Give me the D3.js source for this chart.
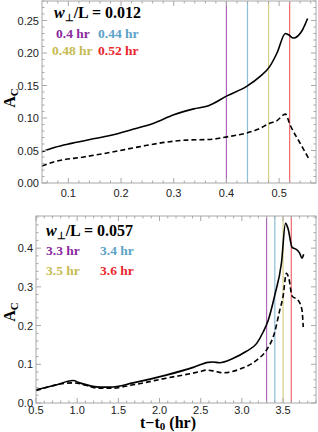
<!DOCTYPE html>
<html>
<head>
<meta charset="utf-8">
<script src="https://cdn.jsdelivr.net/npm/d3@7"></script>
<style>
  body { margin: 0; background: #ffffff; }
  #chart svg { display: block; }
  .tick-label { font-family: 'Liberation Sans', Arial, sans-serif; font-size: 11px; fill: #222222; }
  .serif-bold { font-family: 'Liberation Serif', 'Times New Roman', serif; font-weight: bold; }
</style>
</head>
<body>
<div id="chart"></div>
<script>
/* ── data ────────────────────────────────────────────────── */
// top panel: w/L = 0.012
const topSolid = [
  [0.05, 0.048], [0.075, 0.055], [0.106, 0.061], [0.141, 0.067], [0.179, 0.073],
  [0.224, 0.083], [0.262, 0.092], [0.30, 0.105], [0.338, 0.114], [0.366, 0.119],
  [0.401, 0.134], [0.439, 0.149], [0.464, 0.164], [0.482, 0.179], [0.496, 0.200],
  [0.512, 0.230], [0.518, 0.228], [0.527, 0.223], [0.544, 0.235], [0.554, 0.253]
];
const topDashed = [
  [0.05, 0.026], [0.075, 0.033], [0.129, 0.040], [0.179, 0.047], [0.236, 0.056],
  [0.287, 0.063], [0.325, 0.066], [0.369, 0.067], [0.401, 0.071], [0.439, 0.077],
  [0.461, 0.083], [0.480, 0.091], [0.496, 0.096], [0.512, 0.106], [0.521, 0.089],
  [0.540, 0.061], [0.556, 0.038]
];
const topMarks  = [0.4, 0.44, 0.48, 0.52];
const topLabels = ["0.4 hr", "0.44 hr", "0.48 hr", "0.52 hr"];
const topXTicks = [0.1, 0.2, 0.3, 0.4, 0.5];
const topYTicks = [0, 0.05, 0.10, 0.15, 0.20, 0.25];

// bottom panel: w/L = 0.057
const botSolid = [
  [0.5, 0.034], [0.72, 0.045], [0.95, 0.058], [1.03, 0.052], [1.28, 0.041],
  [1.40, 0.041], [1.68, 0.052], [2.08, 0.072], [2.41, 0.092], [2.59, 0.105],
  [2.65, 0.106], [2.73, 0.104], [2.89, 0.115], [3.05, 0.133], [3.18, 0.154],
  [3.26, 0.184], [3.32, 0.214], [3.40, 0.279], [3.48, 0.361], [3.53, 0.464],
  [3.56, 0.451], [3.61, 0.402], [3.66, 0.397], [3.70, 0.388], [3.73, 0.374],
  [3.75, 0.384]
];
const botDashed = [
  [0.5, 0.032], [0.95, 0.052], [1.28, 0.038], [1.40, 0.038], [1.68, 0.047],
  [2.08, 0.064], [2.49, 0.081], [2.57, 0.085], [2.65, 0.083], [2.77, 0.078],
  [2.97, 0.087], [3.18, 0.111], [3.30, 0.137], [3.40, 0.184], [3.46, 0.240],
  [3.50, 0.275], [3.54, 0.335], [3.57, 0.322], [3.61, 0.276], [3.68, 0.266],
  [3.73, 0.240], [3.745, 0.196]
];
const botMarks  = [3.3, 3.4, 3.5, 3.6];
const botLabels = ["3.3 hr", "3.4 hr", "3.5 hr", "3.6 hr"];
const botXTicks = [0.5, 1.0, 1.5, 2.0, 2.5, 3.0, 3.5];
const botYTicks = [0, 0.1, 0.2, 0.3, 0.4];

const markColors = ["#8b2a9f", "#5ba2c6", "#c6bb52", "#e8262c"];

/* ── layout ──────────────────────────────────────────────── */
const W = 318, H = 432;
const svg = d3.select("#chart").append("svg")
  .attr("width", W).attr("height", H);

const panels = [
  {
    x0: 42, x1: 316, y0: 1, y1: 183,
    xDomain: [0.05, 0.57], yDomain: [0, 0.28],
    xTicks: topXTicks, xMinor: 0.02, xFmt: d3.format(".1f"), xLabDy: 14,
    yTicks: topYTicks, yMinor: 0.01, yFmt: d3.format(".2f"),
    solid: topSolid, dashed: topDashed, marks: topMarks, labels: topLabels,
    title: "0.012", tx: 54, ty: 18,
    labPos: [[56, 38], [98, 38], [52, 55], [98, 55]],
    ylabY: 98
  },
  {
    x0: 36, x1: 316, y0: 216, y1: 403,
    xDomain: [0.5, 3.9], yDomain: [0, 0.483],
    xTicks: botXTicks, xMinor: 0.1, xFmt: d3.format(".1f"), xLabDy: 11,
    yTicks: botYTicks, yMinor: 0.02, yFmt: d3.format(".1f"),
    solid: botSolid, dashed: botDashed, marks: botMarks, labels: botLabels,
    title: "0.057", tx: 46, ty: 236,
    labPos: [[46, 255], [100, 255], [46, 275], [100, 275]],
    ylabY: 312
  }
];

function range(a, b, step) {
  const out = [];
  for (let v = Math.ceil(a / step - 1e-9) * step; v <= b + 1e-9; v += step) out.push(+v.toFixed(6));
  return out;
}

panels.forEach(function (p) {
  const x = d3.scaleLinear().domain(p.xDomain).range([p.x0, p.x1]);
  const y = d3.scaleLinear().domain(p.yDomain).range([p.y1, p.y0]);
  const g = svg.append("g");

  // marker lines
  g.selectAll(".mark").data(p.marks).enter().append("line")
    .attr("x1", d => x(d)).attr("x2", d => x(d))
    .attr("y1", p.y0).attr("y2", p.y1)
    .attr("stroke", (d, i) => markColors[i])
    .attr("stroke-opacity", 0.7)
    .attr("stroke-width", 1.2);

  // curves
  const line = d3.line().x(d => x(d[0])).y(d => y(d[1])).curve(d3.curveMonotoneX);
  g.append("path").datum(p.solid)
    .attr("d", line).attr("fill", "none")
    .attr("stroke", "#000").attr("stroke-width", 1.6);
  g.append("path").datum(p.dashed)
    .attr("d", line).attr("fill", "none")
    .attr("stroke", "#000").attr("stroke-width", 1.6)
    .attr("stroke-dasharray", "5,3");

  // frame
  g.append("rect")
    .attr("x", p.x0).attr("y", p.y0)
    .attr("width", p.x1 - p.x0).attr("height", p.y1 - p.y0)
    .attr("fill", "none").attr("stroke", "#a8a8a8").attr("stroke-width", 1);

  // ticks on all four sides, pointing in
  const xMinor = range(p.xDomain[0], p.xDomain[1], p.xMinor);
  const yMinor = range(p.yDomain[0], p.yDomain[1], p.yMinor);
  const isMajor = (v, arr) => arr.some(t => Math.abs(t - v) < 1e-6);
  const tk = g.append("g").attr("stroke", "#a8a8a8").attr("stroke-width", 1);
  xMinor.forEach(function (v) {
    const len = isMajor(v, p.xTicks) ? 5 : 2.5;
    tk.append("line").attr("x1", x(v)).attr("x2", x(v)).attr("y1", p.y1).attr("y2", p.y1 - len);
    tk.append("line").attr("x1", x(v)).attr("x2", x(v)).attr("y1", p.y0).attr("y2", p.y0 + len);
  });
  yMinor.forEach(function (v) {
    const len = isMajor(v, p.yTicks) ? 5 : 2.5;
    tk.append("line").attr("y1", y(v)).attr("y2", y(v)).attr("x1", p.x0).attr("x2", p.x0 + len);
    tk.append("line").attr("y1", y(v)).attr("y2", y(v)).attr("x1", p.x1).attr("x2", p.x1 - len);
  });

  // tick labels
  g.selectAll(".xl").data(p.xTicks).enter().append("text")
    .attr("class", "tick-label")
    .attr("x", d => x(d)).attr("y", p.y1 + p.xLabDy)
    .attr("text-anchor", "middle")
    .text(d => p.xFmt(d));
  g.selectAll(".yl").data(p.yTicks).enter().append("text")
    .attr("class", "tick-label")
    .attr("x", p.x0 - 3).attr("y", d => y(d) + 4)
    .attr("text-anchor", "end")
    .text(d => p.yFmt(d));

  // y label A_C
  const yl = g.append("text").attr("class", "serif-bold")
    .attr("transform", `translate(15,${p.ylabY}) rotate(-90)`)
    .attr("text-anchor", "middle").attr("font-size", 16);
  yl.append("tspan").text("A");
  yl.append("tspan").attr("font-size", 11).attr("dy", 3).text("C");

  // legend
  const t = g.append("text").attr("class", "serif-bold")
    .attr("x", p.tx).attr("y", p.ty).attr("font-size", 16).attr("fill", "#000");
  t.append("tspan").attr("font-style", "italic").text("w");
  t.append("tspan").attr("font-size", 10).attr("dy", 3).text("\u22A5");
  t.append("tspan").attr("dy", -3).text("/L = " + p.title);

  g.selectAll(".lab").data(p.labels).enter().append("text")
    .attr("class", "serif-bold").attr("font-size", 13.5)
    .attr("x", (d, i) => p.labPos[i][0])
    .attr("y", (d, i) => p.labPos[i][1])
    .attr("fill", (d, i) => markColors[i])
    .text(d => d);
});

// x axis label
const xl = svg.append("text").attr("class", "serif-bold")
  .attr("x", 168).attr("y", 428).attr("text-anchor", "middle").attr("font-size", 16);
xl.append("tspan").text("t\u2212t");
xl.append("tspan").attr("font-size", 11).attr("dy", 2).text("0");
xl.append("tspan").attr("dy", -2).text(" (hr)");
</script>
</body>
</html>
